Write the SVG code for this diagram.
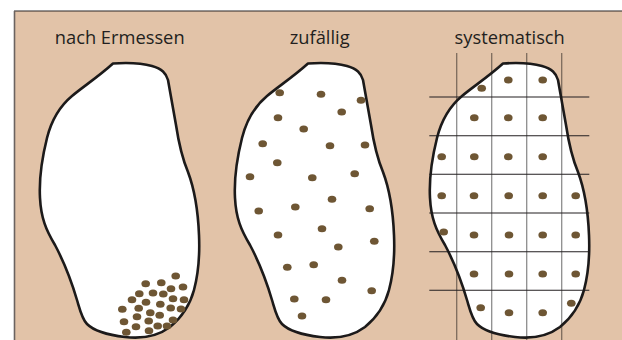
<svg xmlns="http://www.w3.org/2000/svg" xmlns:xlink="http://www.w3.org/1999/xlink" width="622" height="340" viewBox="0 0 622 340">
<style>
.lbl{font-family:"Open Sans","Liberation Sans",sans-serif;font-size:18.3px;fill:#231f20;text-anchor:middle}
.fill{fill:#fff;stroke:none}
.outline{fill:none;stroke:#1c1a1a;stroke-width:2.6;stroke-linejoin:round}
.dot{fill:#6e5634}
.vl{stroke:#000;stroke-opacity:0.45;stroke-width:1.3}
.hl{stroke:#231f20;stroke-width:1.1}
</style>
<defs>
<path id="blob" d="M113,63.5 C128,62.5 143,63.5 152,66 C162,69 166,73 168,80 L176,125 C179,145 183,160 188,172 C194,188 198,210 199,235 C200,258 198,275 194,290 C190,305 181,318 170,327 C158,336 142,339 125,337 C108,335 94,331 87,324 C82,319 80,310 77,300 C72,283 64,262 55,245 C46,230 41,218 40,198 C39,180 42,158 47,138 C52,118 60,106 72,96 C84,86 98,77 113,63.5 Z"/>
<ellipse id="d" cx="0" cy="0" rx="4.3" ry="3.5"/>
</defs>
<rect x="0" y="0" width="622" height="340" fill="#fff"/>
<rect x="14" y="11" width="608" height="329" fill="#e2c3a8"/>
<line x1="14" y1="11" x2="622" y2="11" stroke="#2a2626" stroke-width="1.2"/>
<line x1="14.5" y1="11" x2="14.5" y2="340" stroke="#6b6360" stroke-width="1.6"/>

<g id="panel-ermessen">
<text class="lbl" x="119.7" y="44.3">nach Ermessen</text>
<use xlink:href="#blob" class="fill"/>
<use xlink:href="#blob" class="outline"/>
<g class="dot">
<use xlink:href="#d" x="175.7" y="276"/><use xlink:href="#d" x="145.7" y="283.7"/><use xlink:href="#d" x="161.3" y="282.7"/>
<use xlink:href="#d" x="171" y="288.7"/><use xlink:href="#d" x="183" y="287"/><use xlink:href="#d" x="139.3" y="293.7"/>
<use xlink:href="#d" x="153" y="293"/><use xlink:href="#d" x="163.3" y="294"/><use xlink:href="#d" x="132" y="299.7"/>
<use xlink:href="#d" x="146" y="302.3"/><use xlink:href="#d" x="173" y="298.7"/><use xlink:href="#d" x="184" y="299.7"/>
<use xlink:href="#d" x="122.3" y="309.3"/><use xlink:href="#d" x="138.7" y="308.3"/><use xlink:href="#d" x="160.3" y="304.3"/>
<use xlink:href="#d" x="170.7" y="308"/><use xlink:href="#d" x="181" y="309"/><use xlink:href="#d" x="150.3" y="312.7"/>
<use xlink:href="#d" x="124" y="321.7"/><use xlink:href="#d" x="137" y="316.7"/><use xlink:href="#d" x="159.7" y="315.3"/>
<use xlink:href="#d" x="173" y="320"/><use xlink:href="#d" x="148.7" y="321"/><use xlink:href="#d" x="136" y="326.7"/>
<use xlink:href="#d" x="157.7" y="326"/><use xlink:href="#d" x="167" y="326"/><use xlink:href="#d" x="126.3" y="332.3"/>
<use xlink:href="#d" x="149" y="330.7"/>
</g>
</g>

<g id="panel-zufaellig">
<text class="lbl" x="319.7" y="44.3">zufällig</text>
<use xlink:href="#blob" class="fill" transform="translate(195,0)"/>
<use xlink:href="#blob" class="outline" transform="translate(195,0)"/>
<g class="dot">
<use xlink:href="#d" x="279.7" y="92.7"/><use xlink:href="#d" x="321" y="94.3"/><use xlink:href="#d" x="361" y="100.3"/>
<use xlink:href="#d" x="341.7" y="112"/><use xlink:href="#d" x="278" y="117.7"/><use xlink:href="#d" x="303.7" y="129"/>
<use xlink:href="#d" x="262.7" y="143.7"/><use xlink:href="#d" x="330" y="145.7"/><use xlink:href="#d" x="365" y="145"/>
<use xlink:href="#d" x="277.3" y="162.7"/><use xlink:href="#d" x="250" y="176.7"/><use xlink:href="#d" x="312.3" y="177.7"/>
<use xlink:href="#d" x="354.7" y="173.7"/><use xlink:href="#d" x="258.7" y="211"/><use xlink:href="#d" x="295.3" y="207"/>
<use xlink:href="#d" x="332" y="199.3"/><use xlink:href="#d" x="369.7" y="208.7"/><use xlink:href="#d" x="278" y="235"/>
<use xlink:href="#d" x="322" y="228.7"/><use xlink:href="#d" x="338.3" y="247"/><use xlink:href="#d" x="374.3" y="241.3"/>
<use xlink:href="#d" x="287.3" y="267.3"/><use xlink:href="#d" x="313.7" y="264.7"/><use xlink:href="#d" x="342" y="280.3"/>
<use xlink:href="#d" x="371.7" y="290.7"/><use xlink:href="#d" x="294.3" y="299"/><use xlink:href="#d" x="326" y="299.7"/>
<use xlink:href="#d" x="302" y="316"/>
</g>
</g>

<g id="panel-systematisch">
<text class="lbl" x="509.7" y="44.3">systematisch</text>
<use xlink:href="#blob" class="fill" transform="translate(390,0)"/>
<g id="grid">
<line class="vl" x1="456.7" y1="53" x2="456.7" y2="340"/>
<line class="vl" x1="491.7" y1="53" x2="491.7" y2="340"/>
<line class="vl" x1="526.7" y1="53" x2="526.7" y2="340"/>
<line class="vl" x1="561.7" y1="53" x2="561.7" y2="340"/>
<line class="hl" x1="429.3" y1="97" x2="589.3" y2="97"/>
<line class="hl" x1="429.3" y1="135.7" x2="589.3" y2="135.7"/>
<line class="hl" x1="429.3" y1="174.3" x2="589.3" y2="174.3"/>
<line class="hl" x1="429.3" y1="213" x2="589.3" y2="213"/>
<line class="hl" x1="429.3" y1="251.7" x2="589.3" y2="251.7"/>
<line class="hl" x1="429.3" y1="290.3" x2="589.3" y2="290.3"/>
</g>
<use xlink:href="#blob" class="outline" transform="translate(390,0)"/>
<g class="dot">
<use xlink:href="#d" x="508.3" y="80"/><use xlink:href="#d" x="542.7" y="80"/><use xlink:href="#d" x="481.7" y="88.3"/>
<use xlink:href="#d" x="474.3" y="117.7"/><use xlink:href="#d" x="508.3" y="117.7"/><use xlink:href="#d" x="542.7" y="117.7"/>
<use xlink:href="#d" x="441.7" y="156.7"/><use xlink:href="#d" x="474.3" y="156.7"/><use xlink:href="#d" x="508.3" y="156.7"/><use xlink:href="#d" x="542.7" y="156.7"/>
<use xlink:href="#d" x="441.7" y="195.7"/><use xlink:href="#d" x="474" y="195.7"/><use xlink:href="#d" x="508.7" y="195.7"/><use xlink:href="#d" x="542.7" y="195.7"/><use xlink:href="#d" x="575.7" y="195.7"/>
<use xlink:href="#d" x="443.7" y="232"/><use xlink:href="#d" x="474" y="235"/><use xlink:href="#d" x="509" y="235"/><use xlink:href="#d" x="542.7" y="235"/><use xlink:href="#d" x="575.7" y="235"/>
<use xlink:href="#d" x="474" y="274"/><use xlink:href="#d" x="509" y="274"/><use xlink:href="#d" x="542.7" y="274"/><use xlink:href="#d" x="575.7" y="274"/>
<use xlink:href="#d" x="480.7" y="307.7"/><use xlink:href="#d" x="509" y="312.7"/><use xlink:href="#d" x="542.7" y="312.7"/><use xlink:href="#d" x="571.3" y="303.3"/>
</g>
</g>
</svg>
